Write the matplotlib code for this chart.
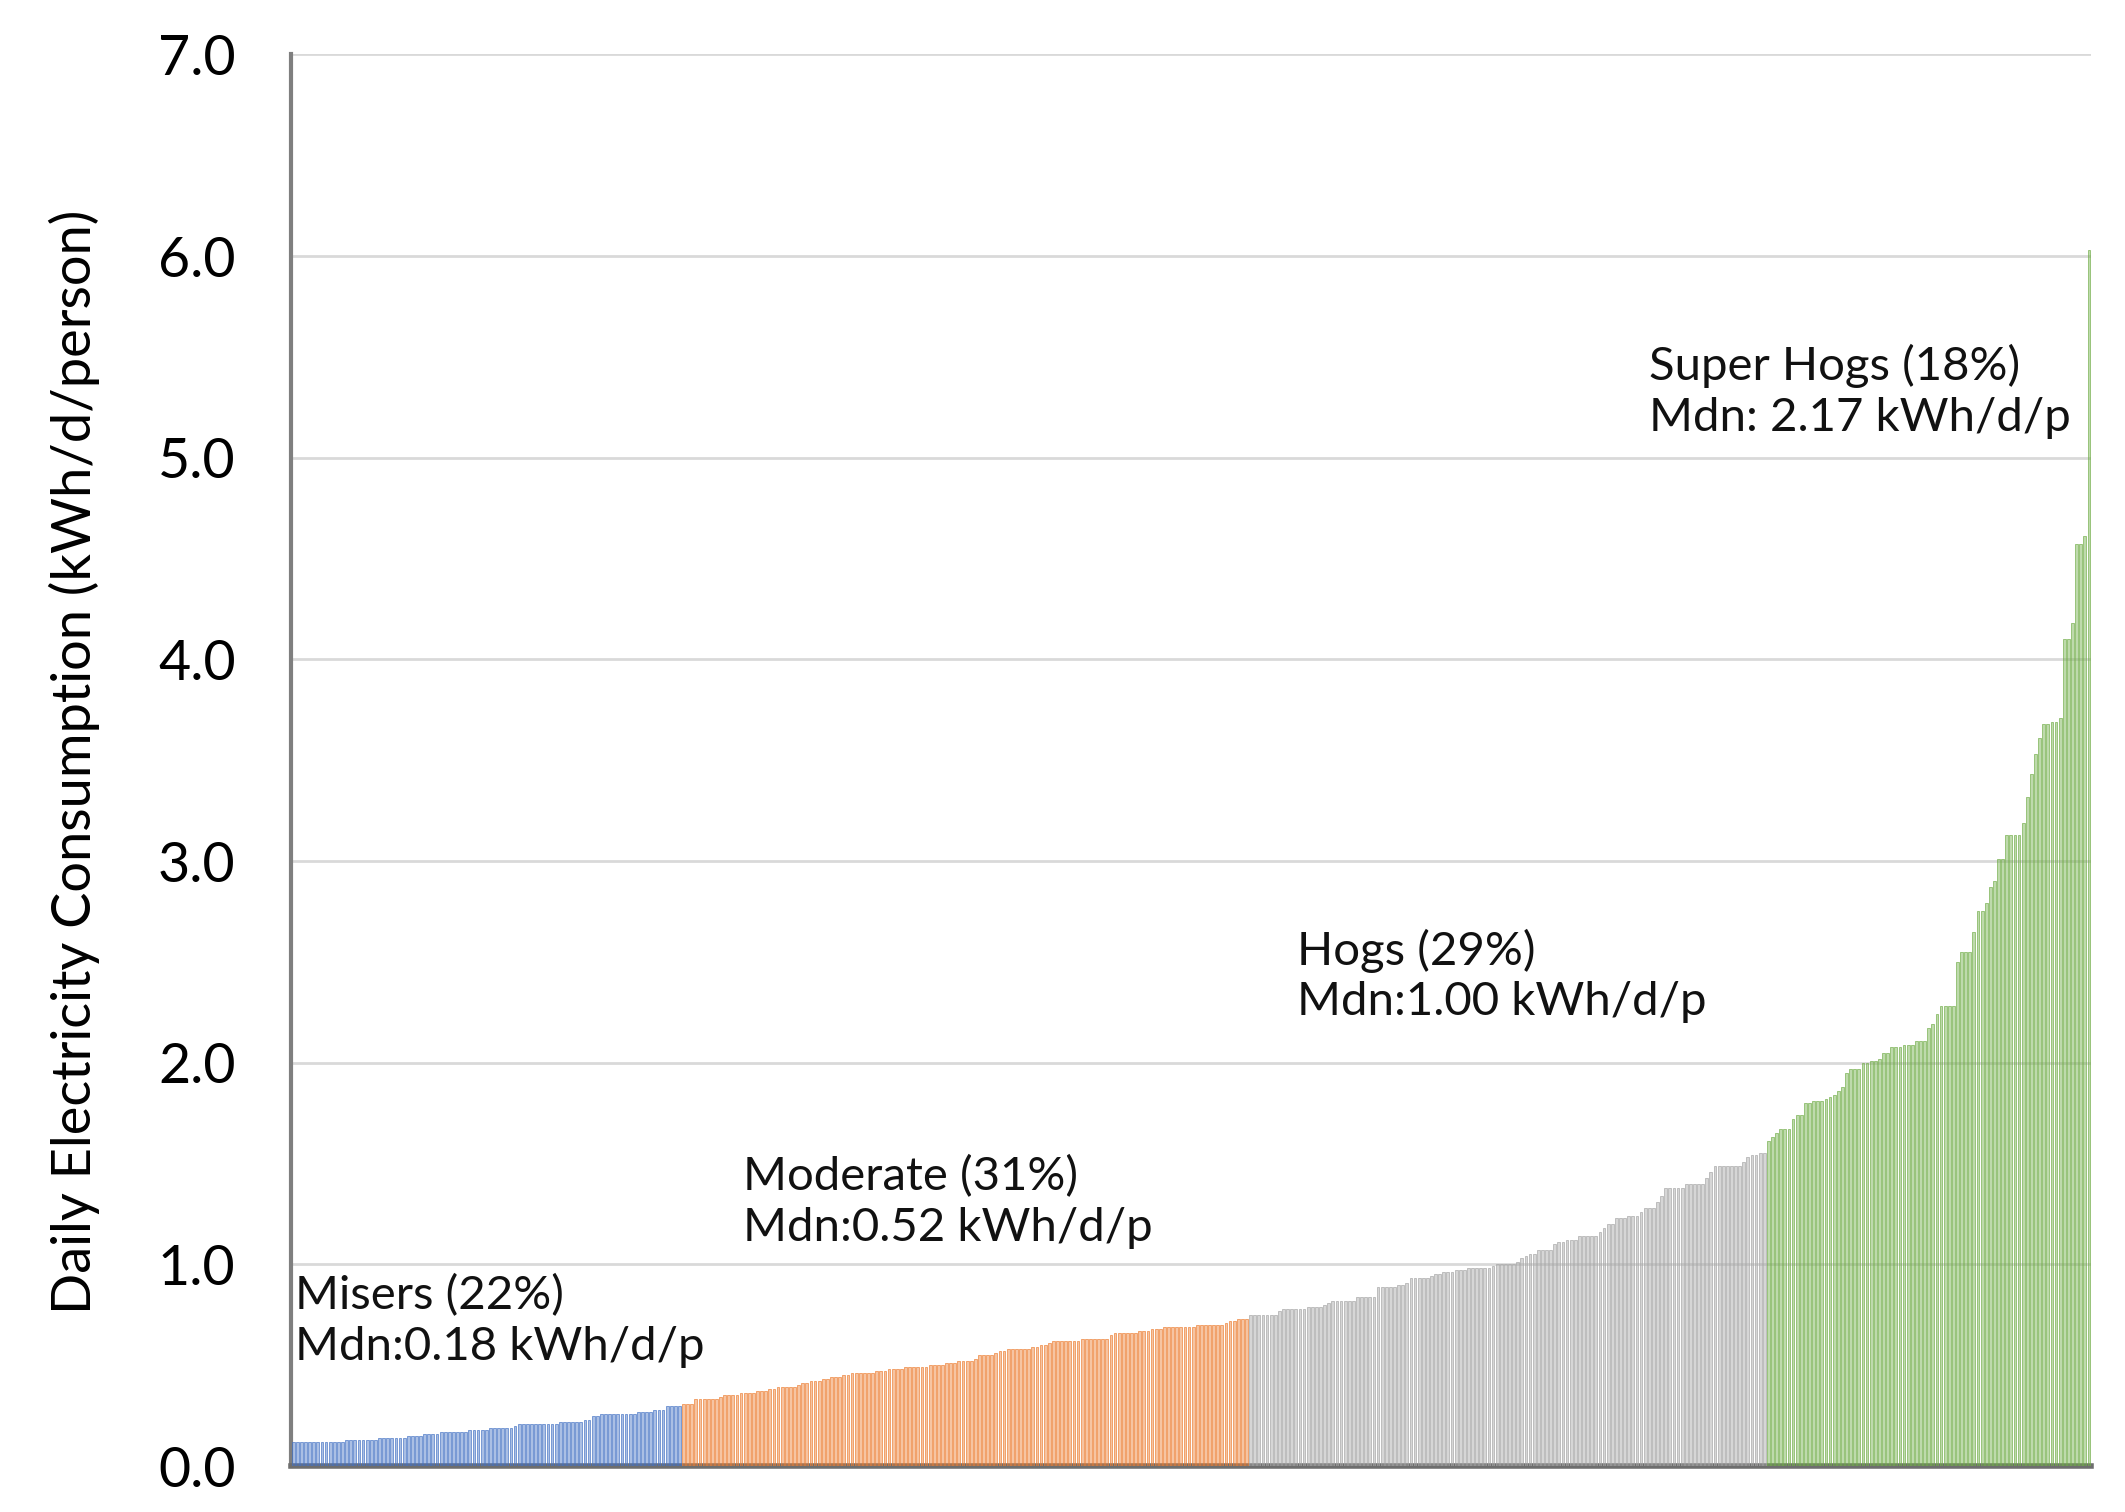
import matplotlib
matplotlib.use('Agg')
import matplotlib.pyplot as plt
from matplotlib.colors import to_rgba


# household daily consumption, sorted, one bar per household
misers = [
    0.12, 0.12, 0.12, 0.12, 0.12, 0.12, 0.12, 0.12, 0.12, 0.12, 0.12, 0.12, 0.12,
    0.13, 0.13, 0.13, 0.13, 0.13, 0.13, 0.13, 0.13,
    0.14, 0.14, 0.14, 0.14, 0.14, 0.14, 0.14,
    0.15, 0.15, 0.15, 0.15, 0.16, 0.16, 0.16, 0.16,
    0.17, 0.17, 0.17, 0.17, 0.17, 0.17, 0.17,
    0.18, 0.18, 0.18, 0.18, 0.18,
    0.19, 0.19, 0.19, 0.19, 0.19, 0.19,
    0.20,
    0.21, 0.21, 0.21, 0.21, 0.21, 0.21, 0.21, 0.21, 0.21, 0.21,
    0.22, 0.22, 0.22, 0.22, 0.22, 0.22,
    0.23, 0.23, 0.25, 0.25,
    0.26, 0.26, 0.26, 0.26, 0.26, 0.26, 0.26, 0.26, 0.26,
    0.27, 0.27, 0.27, 0.27,
    0.28, 0.28, 0.28,
    0.30, 0.30, 0.30, 0.30,
]

moderate = [
    0.31, 0.31, 0.31,
    0.33, 0.33, 0.33, 0.33, 0.33, 0.33,
    0.34,
    0.35, 0.35, 0.35, 0.35, 0.36, 0.36, 0.36, 0.36,
    0.37, 0.37, 0.37, 0.38, 0.38,
    0.39, 0.39, 0.39, 0.39, 0.39,
    0.40, 0.41, 0.41,
    0.42, 0.42, 0.42,
    0.43, 0.43, 0.44, 0.44, 0.44,
    0.45, 0.45,
    0.46, 0.46, 0.46, 0.46, 0.46, 0.46,
    0.47, 0.47, 0.47, 0.48, 0.48, 0.48, 0.48,
    0.49, 0.49, 0.49, 0.49, 0.49, 0.49,
    0.50, 0.50, 0.50, 0.50,
    0.51, 0.51, 0.51, 0.52, 0.52, 0.52, 0.52,
    0.53,
    0.55, 0.55, 0.55, 0.55,
    0.56, 0.57, 0.57,
    0.58, 0.58, 0.58, 0.58, 0.58, 0.58,
    0.59, 0.59, 0.60, 0.60,
    0.61,
    0.62, 0.62, 0.62, 0.62, 0.62, 0.62, 0.62,
    0.63, 0.63, 0.63, 0.63, 0.63, 0.63, 0.63,
    0.65,
    0.66, 0.66, 0.66, 0.66, 0.66, 0.66,
    0.67, 0.67, 0.67, 0.68, 0.68, 0.68,
    0.69, 0.69, 0.69, 0.69, 0.69, 0.69, 0.69, 0.69,
    0.70, 0.70, 0.70, 0.70, 0.70, 0.70, 0.70,
    0.71,
    0.72, 0.72, 0.73, 0.73, 0.73,
]

hogs = [
    0.75, 0.75, 0.75, 0.75, 0.75, 0.75, 0.75,
    0.77,
    0.78, 0.78, 0.78, 0.78, 0.78, 0.78,
    0.79, 0.79, 0.79, 0.79,
    0.80, 0.81,
    0.82, 0.82, 0.82, 0.82, 0.82, 0.82,
    0.84, 0.84, 0.84, 0.84, 0.84,
    0.89, 0.89, 0.89, 0.89, 0.89,
    0.90, 0.90, 0.91,
    0.93, 0.93, 0.93, 0.93, 0.93,
    0.94,
    0.95, 0.95, 0.96,
    0.96, 0.96, 0.97, 0.97, 0.97,
    0.98, 0.98, 0.98, 0.98, 0.98, 0.98,
    0.99,
    1.00, 1.00, 1.00, 1.00, 1.00,
    1.01, 1.03,
    1.04, 1.05, 1.05,
    1.07, 1.07, 1.07, 1.07,
    1.10,
    1.11, 1.11, 1.12, 1.12, 1.12,
    1.14, 1.14, 1.14, 1.14, 1.14,
    1.16, 1.18, 1.20, 1.20,
    1.23, 1.23, 1.23, 1.24, 1.24, 1.24,
    1.26,
    1.28, 1.28, 1.28,
    1.31, 1.34,
    1.38, 1.38, 1.38, 1.38, 1.38,
    1.40, 1.40, 1.40, 1.40, 1.40,
    1.43, 1.46,
    1.49, 1.49, 1.49, 1.49, 1.49, 1.49, 1.49,
    1.51,
    1.53, 1.54, 1.54, 1.55, 1.55,
]

super_hogs = [
    1.61, 1.63, 1.65, 1.67, 1.67, 1.67, 1.72, 1.74, 1.74,
    1.80, 1.80, 1.81, 1.81, 1.81, 1.82, 1.83, 1.84, 1.86, 1.88,
    1.95, 1.97, 1.97, 1.97, 2.00, 2.00, 2.01, 2.01, 2.02,
    2.05, 2.05, 2.08, 2.08, 2.08, 2.09, 2.09, 2.09, 2.11, 2.11, 2.11,
    2.17, 2.19, 2.24, 2.28, 2.28, 2.28, 2.28,
    2.50, 2.55, 2.55, 2.55, 2.65, 2.75, 2.75, 2.79, 2.87, 2.90,
    3.01, 3.01, 3.13, 3.13, 3.13, 3.13, 3.19, 3.32, 3.43, 3.53, 3.61,
    3.68, 3.68, 3.69, 3.69, 3.71,
    4.10, 4.10, 4.18, 4.57, 4.57, 4.61, 6.03,
]

groups = [misers, moderate, hogs, super_hogs]
colors = ['#4472C4', '#ED7D31', '#A5A5A5', '#70AD47']
labels = ['Misers (22%)\nMdn:0.18 kWh/d/p',
          'Moderate (31%)\nMdn:0.52 kWh/d/p',
          'Hogs (29%)\nMdn:1.00 kWh/d/p',
          'Super Hogs (18%)\nMdn: 2.17 kWh/d/p']
label_pos = [(0.5, 0.72), (109.5, 1.31), (244.3, 2.43), (329.9, 5.33)]

plt.rcParams['font.family'] = ['Lato', 'DejaVu Sans']

fig = plt.figure(figsize=(21.25, 15.12), dpi=100)
ax = fig.add_axes([0.137, 0.0304, 0.847, 0.9336])

start = 0
for values, color in zip(groups, colors):
    xs = list(range(start, start + len(values)))
    ax.bar(xs, values, width=0.68, color=to_rgba(color, 0.45),
           edgecolor=color, linewidth=0.45, zorder=3)
    start += len(values)

for text, (x, y) in zip(labels, label_pos):
    ax.text(x, y, text, fontsize=34, va='center', ha='left',
            linespacing=1.25, color='#111111', zorder=4)

ax.set_xlim(-0.5, start - 0.5)
ax.set_ylim(0, 7)
ax.set_yticks([0, 1, 2, 3, 4, 5, 6, 7])
ax.set_yticklabels([f'{v:.1f}' for v in range(8)], fontsize=40)
ax.set_xticks([])
ax.tick_params(axis='y', length=0, pad=40)
ax.yaxis.grid(True, color='#D9D9D9', linewidth=2, zorder=0)
ax.set_axisbelow(True)

for side in ['top', 'right']:
    ax.spines[side].set_visible(False)
ax.spines['left'].set_color('#7F7F7F')
ax.spines['left'].set_linewidth(3)
ax.spines['bottom'].set_color('#6E6E6E')
ax.spines['bottom'].set_linewidth(4)

fig.text(0.035, 0.496, 'Daily Electricity Consumption (kWh/d/person)',
         rotation=90, fontsize=39, ha='center', va='center')

fig.savefig('out.png', dpi=100)
